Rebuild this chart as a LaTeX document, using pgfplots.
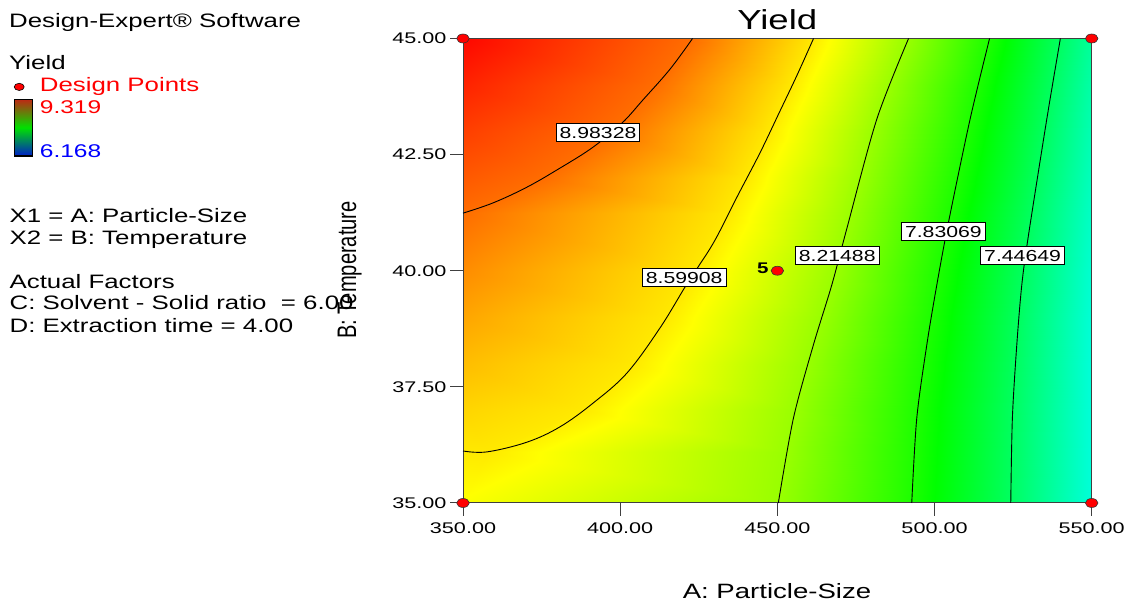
\documentclass[border=0pt]{standalone}
\usepackage{fontspec}
\setmainfont{Liberation Sans}[FakeStretch=1.33]
\newfontfamily\plainfont{Liberation Sans}
\newfontfamily\tickfont{Liberation Sans}[FakeStretch=1.4]
\usepackage{graphicx}
\usepackage{pgfplots}
\usepackage{pgfplotstable}
\pgfplotsset{compat=1.18}

\definecolor{barTop}{RGB}{190,40,20}
\definecolor{barMid}{RGB}{0,225,0}
\definecolor{barBot}{RGB}{0,30,200}

\newcommand\panel{\fontsize{19.5}{20}\selectfont}

\tikzset{clabel/.style={draw=black, line width=0.8bp, fill=white,
    inner xsep=3.5bp, inner ysep=3.2bp, text height=11.6bp, text depth=0bp,
    font=\fontsize{16}{16}\selectfont},
  contour/.style={black, line width=0.9bp, smooth, tension=0.6}}

\pgfplotsset{plotframe/.style={
  at={(463bp,101bp)}, anchor=south west,
  scale only axis, width=628.7bp, height=464.5bp,
  xmin=350, xmax=550, ymin=35, ymax=45}}

% Yield over the (A, B) plane: each row is one temperature, the inner
% columns sit where the row meets each contour level
\pgfplotstableread{
x y v
350 35 8.522
350 35 8.522
350 35 8.522
450.3 35 8.21488
492.75 35 7.83069
524.25 35 7.44649
550 35 7.070
350 36.1 8.598
350 36.1 8.598
358 36.1 8.59908
453.2 36.1 8.21488
493.7 36.1 7.83069
524.55 36.1 7.44649
550 36.1 7.070
350 37 8.661
350 37 8.661
388.3 37 8.59908
455.8 37 8.21488
494.7 37 7.83069
524.9 37 7.44649
550 37 7.070
350 38 8.734
350 38 8.734
404.3 38 8.59908
459.8 38 8.21488
496.7 38 7.83069
525.8 38 7.44649
550 38 7.070
350 39 8.808
350 39 8.808
414.8 39 8.59908
464.3 39 8.21488
499.0 39 7.83069
526.9 39 7.44649
550 39 7.078
350 40 8.885
350 40 8.885
424.0 40 8.59908
468.9 40 8.21488
501.5 40 7.83069
528.4 40 7.44649
550 40 7.094
350 41.24 8.983
350 41.24 8.98328
434.5 41.24 8.59908
473.9 41.24 8.21488
505.05 41.24 7.83069
531.0 41.24 7.44649
550 41.24 7.128
350 42 9.045
375.5 42 8.98328
440.3 42 8.59908
476.8 42 8.21488
507.4 42 7.83069
532.8 42 7.44649
550 42 7.153
350 43 9.127
397.4 43 8.98328
447.7 43 8.59908
480.6 43 8.21488
510.5 43 7.83069
535.1 43 7.44649
550 43 7.184
350 44 9.213
411.4 44 8.98328
454.8 44 8.59908
485.9 44 8.21488
513.9 44 7.83069
537.5 44 7.44649
550 44 7.220
350 45 9.300
423.0 45 8.98328
461.5 45 8.59908
491.7 45 8.21488
517.5 45 7.83069
540.0 45 7.44649
550 45 7.260
}\surfacedata

\begin{document}
\begin{tikzpicture}[x=1bp,y=1bp]
\useasboundingbox (0,0) rectangle (1128,604);

% colour-shaded response surface seen from above
\begin{axis}[plotframe, view={0}{90}, hide axis, zmin=6, zmax=10,
  colormap={de}{rgb255(0cm)=(0,0,255); rgb255(1cm)=(0,255,255);
    rgb255(2cm)=(0,255,0); rgb255(3cm)=(255,255,0); rgb255(4cm)=(255,0,0)},
  point meta min=6.168, point meta max=9.319]
\addplot3[surf, shader=interp, mesh/cols=7] table[x=x, y=y, z=v] {\surfacedata};
\end{axis}

% frame, ticks, contour lines and design points
\begin{axis}[plotframe,
  xtick={350,400,450,500,550}, ytick={35,37.5,40,42.5,45},
  tick align=outside, major tick length=13bp,
  xtick pos=bottom, ytick pos=left,
  /pgf/number format/assume math mode=true,
  xticklabel style={font=\tickfont\fontsize{15.5}{15.5}\selectfont, yshift=-3bp,
    /pgf/number format/.cd, fixed, fixed zerofill, precision=2},
  yticklabel style={font=\tickfont\fontsize{15.5}{15.5}\selectfont,
    /pgf/number format/.cd, fixed, fixed zerofill, precision=2},
  axis line style={black!75, line width=1bp},
  tick style={black!75, line width=1bp},
  clip=false,
]
\addplot[contour] coordinates {
  (350,41.24) (359.54,41.46) (370.36,41.80) (380.86,42.21)
  (391.36,42.66) (400.59,43.18) (407.27,43.68) (415.86,44.34) (423.02,45.00)};
\addplot[contour] coordinates {
  (350,36.12) (357.6,36.10) (370.36,36.31) (380.86,36.64)
  (391.36,37.15) (402.18,37.80) (412.68,38.77) (420.63,39.65)
  (424.77,40.08) (430.17,40.66) (437.33,41.61) (444.49,42.54)
  (450.85,43.44) (456.26,44.21) (461.51,45.00)};
\addplot[contour, tension=0.5] coordinates {
  (450.31,35) (455.09,36.82) (461.45,38.40) (467.30,39.69)
  (472.07,40.90) (481.62,43.26) (491.74,45)};
\addplot[contour, tension=0.5] coordinates {
  (492.75,35) (494.34,36.82) (497.53,38.40) (500.71,39.69)
  (504.40,41.03) (511.30,43.26) (517.51,45)};
\addplot[contour, tension=0.5] coordinates {
  (524.25,35) (524.76,36.82) (526.16,38.40) (527.75,39.69)
  (529.85,40.75) (535.70,43.26) (540.03,45)};

% contour level labels
\node[clabel] at (axis cs:392.95,42.97) {8.98328};
\node[clabel] at (axis cs:420.37,39.85) {8.59908};
\node[clabel] at (axis cs:469.05,40.33) {8.21488};
\node[clabel] at (axis cs:502.81,40.85) {7.83069};
\node[clabel] at (axis cs:528.0,40.33) {7.44649};

% design points
\addplot[only marks, mark=*, mark size=4.5,
  mark options={xscale=1.4, fill=red, draw=black!80, line width=0.6bp}]
  coordinates {(350,35) (350,45) (550,35) (550,45) (450,40)};
\node[anchor=east, inner sep=0, xshift=-8.5bp, yshift=2bp] at (axis cs:450,40)
  {\bfseries\fontsize{15.5}{15.5}\selectfont 5};
\end{axis}

% title and axis titles
\node[anchor=base, inner sep=0] at (777.3,574.7) {\fontsize{27.6}{28}\selectfont Yield};
\node[anchor=base, inner sep=0] at (777,5.7) {\fontsize{20.8}{21}\selectfont A: Particle-Size};

% side panel
\begin{scope}[every node/.style={anchor=base west, inner sep=0}]
\node at (9,576.4) {\panel Design-Expert® Software};
\node at (9,534) {\panel Yield};
\node[text=red] at (39.7,512.4) {\panel Design Points};
\node[text=red] at (39.7,490.2) {\fontsize{18.5}{19}\selectfont 9.319};
\node[text=blue] at (39.7,446.4) {\fontsize{18.5}{19}\selectfont 6.168};
\node at (9.4,381.1) {\panel X1 = A: Particle-Size};
\node at (9.4,359) {\panel X2 = B: Temperature};
\node at (9.4,315) {\panel Actual Factors};
\node at (9.4,294) {\panel C: Solvent - Solid ratio~ = 6.00};
\node at (9.4,271.7) {\panel D: Extraction time = 4.00};
\end{scope}
\fill[red, draw=black, line width=0.6bp] (19.2,517.1) ellipse (5 and 3.6);
\shade[top color=barTop, bottom color=barBot, middle color=barMid] (14.5,448.1) rectangle (32.7,504.7);
\draw[line width=1.5bp] (14.5,448.1) rectangle (32.7,504.7);

% the temperature axis title sits over the last panel line
\node[rotate=90, anchor=base, inner sep=0] at (356,334)
  {\scalebox{1}[1.33]{\plainfont\fontsize{20.2}{20}\selectfont B: Temperature}};
\end{tikzpicture}
\end{document}
